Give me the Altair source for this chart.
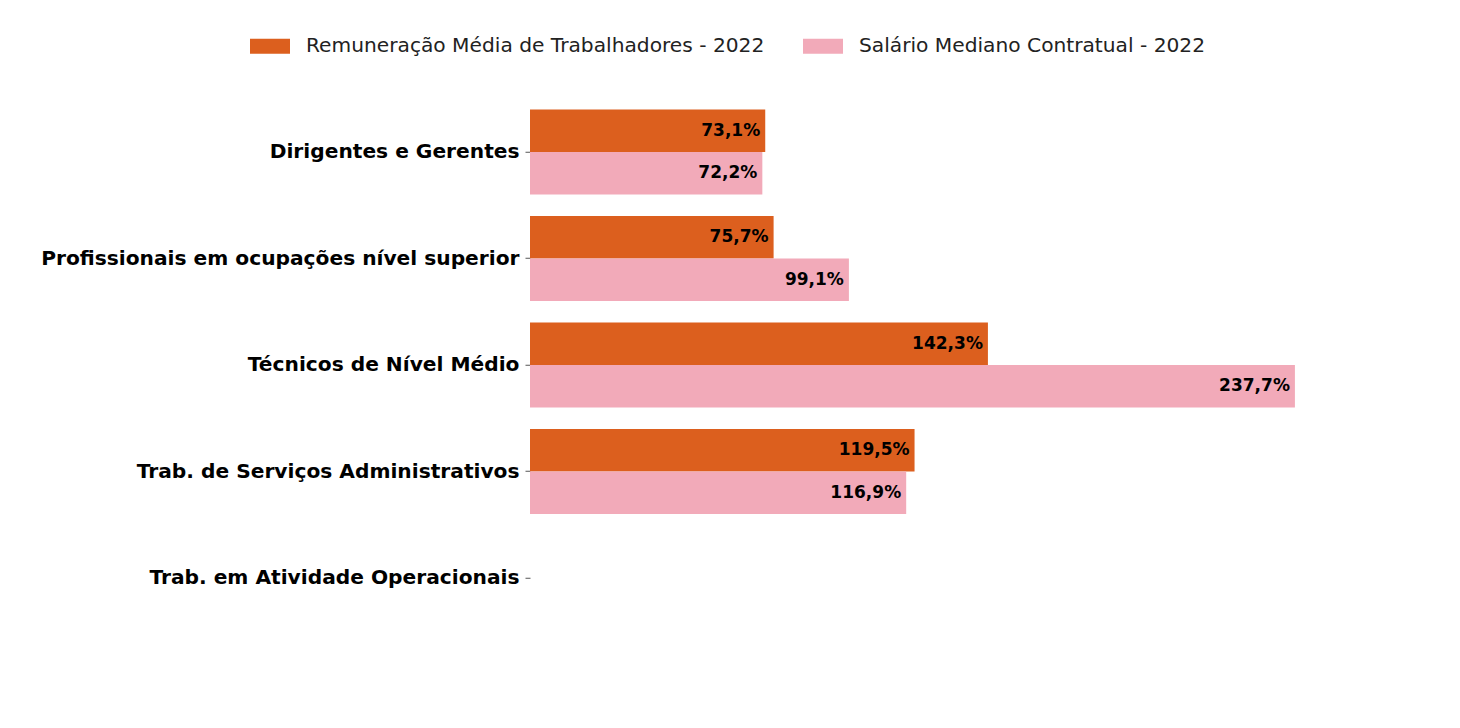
import altair as alt
import pandas as pd

categories = [
    "Dirigentes e Gerentes",
    "Profissionais em ocupações nível superior",
    "Técnicos de Nível Médio",
    "Trab. de Serviços Administrativos",
    "Trab. em Atividade Operacionais",
]
series = ["Remuneração Média de Trabalhadores - 2022", "Salário Mediano Contratual - 2022"]
remuneracao = [73.1, 75.7, 142.3, 119.5, None]
salario = [72.2, 99.1, 237.7, 116.9, None]
colors = ["#DC5F1E", "#F2AAB9"]

rows = []
for s, vals in zip(series, [remuneracao, salario]):
    for c, v in zip(categories, vals):
        if v is not None:
            rows.append({"cat": c, "serie": s, "valor": v,
                         "rotulo": f"{v:.1f}".replace(".", ",") + "%"})
df = pd.DataFrame(rows)

FONT = "DejaVu Sans"

base = alt.Chart(df).encode(
    y=alt.Y("cat:N",
            scale=alt.Scale(domain=categories, paddingInner=0.2, paddingOuter=0.1),
            axis=alt.Axis(title=None, domain=False, ticks=True, tickSize=5, tickColor="#555",
                          labelFontSize=20.2, labelFontWeight="bold", labelColor="black",
                          labelPadding=6, labelFont=FONT, labelLimit=0)),
    yOffset=alt.YOffset("serie:N", scale=alt.Scale(domain=series, paddingInner=0, paddingOuter=0)),
)

bars = base.mark_bar().encode(
    x=alt.X("valor:Q", scale=alt.Scale(domain=[0, 250], nice=False), axis=None),
    color=alt.Color("serie:N", scale=alt.Scale(domain=series, range=colors),
                    legend=alt.Legend(orient="none", legendX=-280, legendY=-73,
                                      direction="horizontal", title=None,
                                      symbolType="M-1,-0.375H1V0.375H-1Z", symbolSize=1600,
                                      symbolStrokeWidth=0, labelFontSize=20.2, labelFont=FONT,
                                      labelColor="#222222", columnPadding=38, labelOffset=16,
                                      labelLimit=0)),
)

text = base.mark_text(align="right", dx=-5, baseline="middle", fontWeight="bold",
                      fontSize=17, font=FONT, color="black").encode(
    x=alt.X("valor:Q"), text="rotulo:N")

chart = (bars + text).properties(
    width=804.5, height=532.5,
    background="white",
    autosize=alt.AutoSizeParams(type="none"),
    padding={"left": 522, "top": 90.75, "right": 10, "bottom": 60},
).configure_view(strokeWidth=0, stroke="transparent")

chart.save("out.html", embed_options={"renderer": "svg", "actions": False})
